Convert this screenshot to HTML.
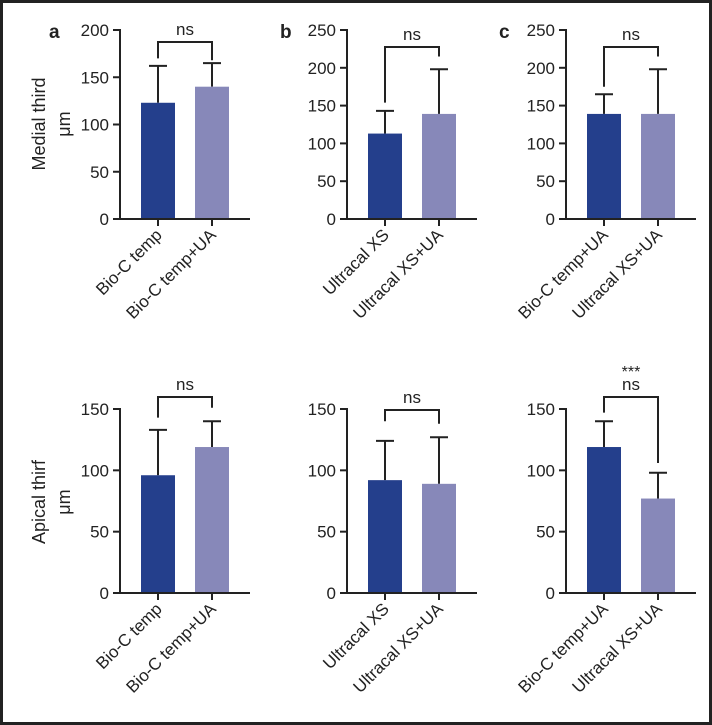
<!DOCTYPE html>
<html><head><meta charset="utf-8"><style>
html,body{margin:0;padding:0;background:#fff}
svg{display:block;font-family:"Liberation Sans",sans-serif}
</style></head><body>
<svg id="c" width="712" height="725" xmlns="http://www.w3.org/2000/svg">
<rect x="1.5" y="1.5" width="709" height="722" fill="#fff" stroke="#222" stroke-width="3"/>
</svg>
<script>
const NS="http://www.w3.org/2000/svg";
const svg=document.getElementById('c');
const catsA=["Bio-C temp","Bio-C temp+UA"];
const catsB=["Ultracal XS","Ultracal XS+UA"];
const catsC=["Bio-C temp+UA","Ultracal XS+UA"];
const medialMeans=[[123,140],[113,139],[139,139]];
const medialErr=[[39,25],[30,59],[26,59]];
const apicalMeans=[[96,119],[92,89],[119,77]];
const apicalErr=[[37,21],[32,38],[21,21]];
const medialMax=[200,250,250];
const medialTicks=[[0,50,100,150,200],[0,50,100,150,200,250],[0,50,100,150,200,250]];
const apicalMax=[150,150,150];
const apicalTicks=[[0,50,100,150],[0,50,100,150],[0,50,100,150]];
const colors=["#243f8c","#8788b9"];
function el(t,a,txt){const e=document.createElementNS(NS,t);for(const k in a)e.setAttribute(k,a[k]);if(txt!==undefined)e.textContent=txt;svg.appendChild(e);return e;}
const axX=[120,347,566];
function panel(pi,row,cats,means,errs,max,ticks,bracketY,legY,sig){
  const x0=axX[pi], top=row?409:30, base=row?593:219;
  const y=v=>base-(v/max)*(base-top);
  const bx=i=>x0+21+i*54, bw=34;
  const pfx=(row?'apical':'medial')+'-'+'abc'[pi];
  for(let i=0;i<2;i++){
    const cx=bx(i)+bw/2;
    const e1=el('line',{x1:cx,x2:cx,y1:y(means[i]),y2:y(means[i]+errs[i]),stroke:'#222','stroke-width':2});
    
    const e2=el('line',{x1:cx-9,x2:cx+9,y1:y(means[i]+errs[i]),y2:y(means[i]+errs[i]),stroke:'#222','stroke-width':2});
    
    const b=el('rect',{x:bx(i),y:y(means[i]),width:bw,height:base-y(means[i]),fill:colors[i]});
    
    const tk=el('line',{x1:cx,x2:cx,y1:base,y2:base+7,stroke:'#222','stroke-width':2});
    
    const lx=cx+5, ly=base+17;
    const t=el('text',{x:lx,y:ly,'font-size':17,fill:'#222','text-anchor':'end',transform:`rotate(-45 ${lx} ${ly})`},cats[i]);
    
  }
  const ya=el('line',{x1:x0,x2:x0,y1:top-1,y2:base+1,stroke:'#222','stroke-width':2});
  
  const xa=el('line',{x1:x0-7,x2:x0+130,y1:base,y2:base,stroke:'#222','stroke-width':2});
  
  ticks.forEach(v=>{
    const l=el('line',{x1:x0-7,x2:x0,y1:y(v),y2:y(v),stroke:'#222','stroke-width':2});
    
    const t=el('text',{x:x0-11,y:y(v)+6,'font-size':17,fill:'#222','text-anchor':'end'},v);
    
  });
  const c1=bx(0)+bw/2,c2=bx(1)+bw/2;
  const br=el('path',{d:`M${c1} ${y(legY[0])}V${bracketY}H${c2}V${y(legY[1])}`,fill:'none',stroke:'#222','stroke-width':2});
  
  const ns=el('text',{x:(c1+c2)/2,y:bracketY-7,'font-size':17,fill:'#222','text-anchor':'middle'},'ns');
  
  if(sig){const s=el('text',{x:(c1+c2)/2,y:bracketY-20,'font-size':16,fill:'#222','text-anchor':'middle'},sig);
    }
  if(!row){const L=el('text',{x:pi===0?49:x0-67,y:38,'font-size':19,'font-weight':'bold',fill:'#222'},'abc'[pi]);
    }
}
panel(0,0,catsA,medialMeans[0],medialErr[0],medialMax[0],medialTicks[0],42,[170,168]);
panel(1,0,catsB,medialMeans[1],medialErr[1],medialMax[1],medialTicks[1],47,[154,215]);
panel(2,0,catsC,medialMeans[2],medialErr[2],medialMax[2],medialTicks[2],47,[175,215]);
panel(0,1,catsA,apicalMeans[0],apicalErr[0],apicalMax[0],apicalTicks[0],397,[143,151]);
panel(1,1,catsB,apicalMeans[1],apicalErr[1],apicalMax[1],apicalTicks[1],410,[140,138]);
panel(2,1,catsC,apicalMeans[2],apicalErr[2],apicalMax[2],apicalTicks[2],397,[147,106],'***');
[["Medial third",124],["Apical thirf",502]].forEach(([t,cy],i)=>{
  const a=el('text',{x:45,y:cy,'font-size':18,fill:'#222','text-anchor':'middle',transform:`rotate(-90 45 ${cy})`},t);
  
  const u=el('text',{x:70,y:cy,'font-size':18,fill:'#222','text-anchor':'middle',transform:`rotate(-90 70 ${cy})`},'μm');
  
});
</script>
</body></html>
